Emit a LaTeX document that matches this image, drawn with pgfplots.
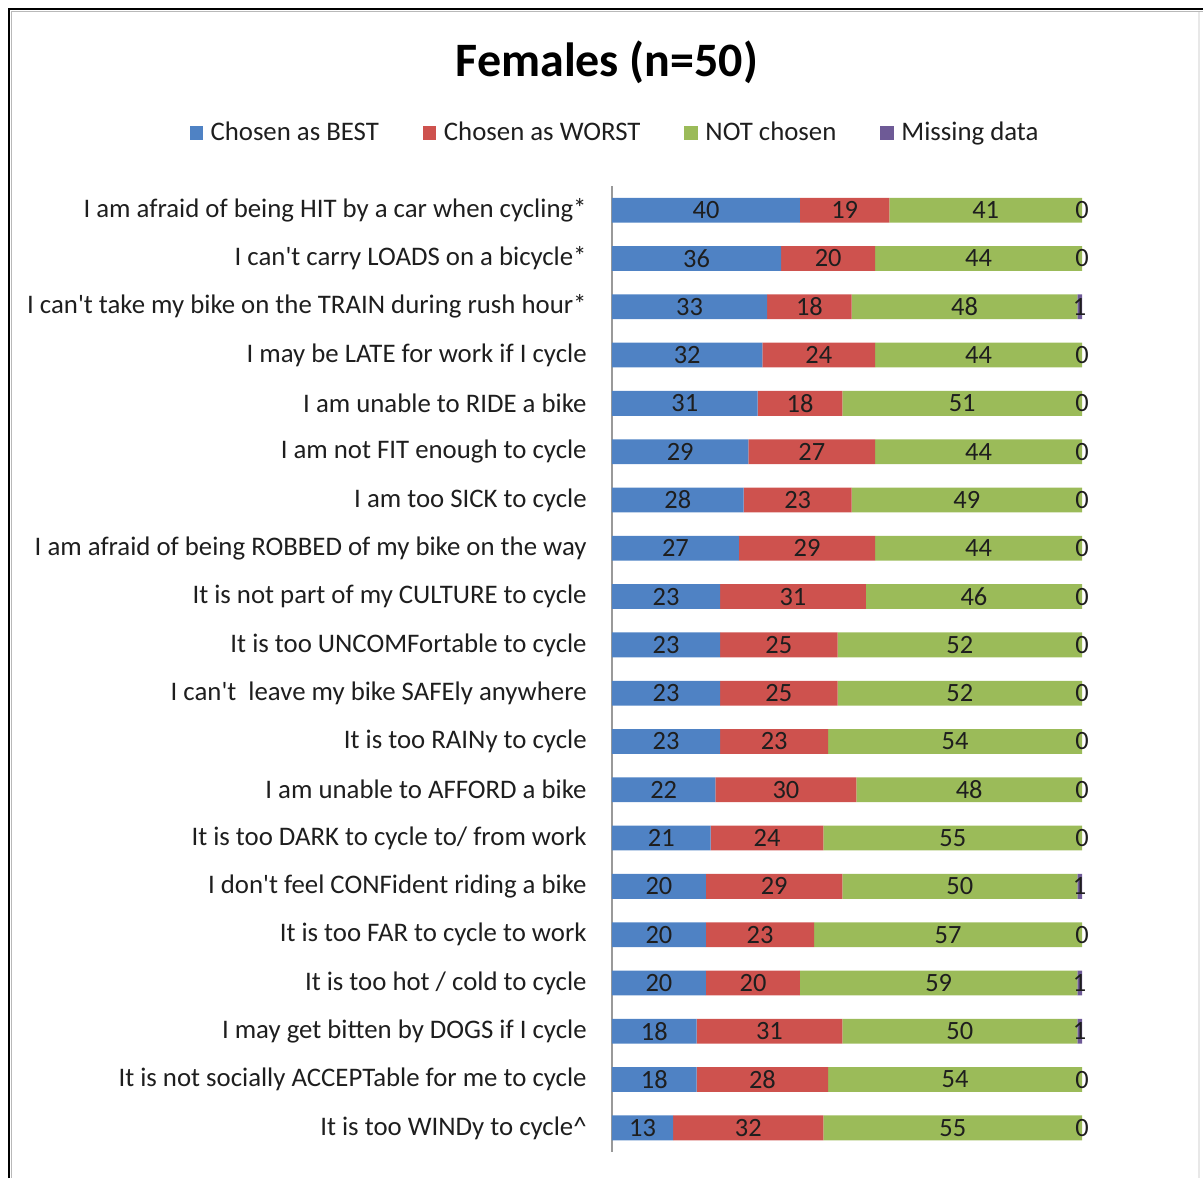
\documentclass[border=0pt]{standalone}
\usepackage{pgfplots}
\pgfplotsset{compat=1.18}
\usepackage{pgfplotstable}
\usepackage{fontspec}
\setmainfont{Carlito}

\definecolor{bestblue}{RGB}{79,130,196}
\definecolor{worstred}{RGB}{206,82,78}
\definecolor{notgreen}{RGB}{155,187,89}
\definecolor{missviolet}{RGB}{110,90,150}
\definecolor{labeltext}{RGB}{30,30,30}

% Share of responses per barrier statement (percent)
\pgfplotstableread{
idx best worst notchosen missing
0  40 19 41 0
1  36 20 44 0
2  33 18 48 1
3  32 24 44 0
4  31 18 51 0
5  29 27 44 0
6  28 23 49 0
7  27 29 44 0
8  23 31 46 0
9  23 25 52 0
10 23 25 52 0
11 23 23 54 0
12 22 30 48 0
13 21 24 55 0
14 20 29 50 1
15 20 23 57 0
16 20 20 59 1
17 18 31 50 1
18 18 28 54 0
19 13 32 55 0
}\barriers

\pgfplotsset{
  barframe/.style={
    at={(0pt,0pt)}, anchor=south west,
    scale only axis, width=235pt, height=483pt,
    xmin=0, xmax=100,
    ymin=-0.5, ymax=19.5, y dir=reverse,
    /pgf/number format/assume math mode=true,
    every node near coord/.append style={font=\fontsize{13.2}{15}\selectfont, text=labeltext, inner sep=0pt},
  },
  seglabel/.style={
    point meta=\thisrow{#1},
    nodes near coords={\makebox[0pt]{\pgfmathprintnumber{\pgfplotspointmeta}}},
  },
}

\begin{document}
\begin{tikzpicture}
\useasboundingbox (-306pt,-13pt) rectangle (295.5pt,576pt);

% frame
\draw[gray!55, line width=0.8pt] (-300.2pt,-13pt) -- (-300.2pt,570.2pt) -- (295.5pt,570.2pt);
\draw[black, line width=1.1pt] (-301.5pt,-13pt) -- (-301.5pt,571.5pt) -- (295.5pt,571.5pt);
\draw[gray!18, line width=0.8pt] (293.5pt,570pt) -- (293.5pt,-13pt);

\node[font=\fontsize{24}{28}\selectfont\bfseries, text=black] at (-2.5pt,545pt) {Females (n=50)};

\begin{axis}[
  barframe,
  xbar stacked, bar width=12.4pt,
  axis x line=none,
  axis y line=left,
  y axis line style={-, draw=black!40, line width=0.6pt},
  ytick={0,...,19},
  major tick length=0pt,
  yticklabel style={font=\fontsize{13.4}{15}\selectfont, text=labeltext, anchor=east, inner sep=0pt, xshift=-12.5pt},
  yticklabels={
    {I am afraid of being HIT by a car when cycling*},
    {I can\textquotesingle t carry LOADS on a bicycle*},
    {I can\textquotesingle t take my bike on the TRAIN during rush hour*},
    {I may be LATE for work if I cycle},
    {I am unable to RIDE a bike},
    {I am not FIT enough to cycle},
    {I am too SICK to cycle},
    {I am afraid of being ROBBED of my bike on the way},
    {It is not part of my CULTURE to cycle},
    {It is too UNCOMFortable to cycle},
    {I can\textquotesingle t\ \ leave my bike SAFEly anywhere\ },
    {It is too RAINy to cycle},
    {I am unable to AFFORD a bike},
    {It is too DARK to cycle to/ from work\ },
    {I don\textquotesingle t feel CONFident riding a bike\ },
    {It is too FAR to cycle to work},
    {It is too hot / cold to cycle},
    {I may get bitten by DOGS if I cycle},
    {It is not socially ACCEPTable for me to cycle\ },
    {It is too WINDy to cycle\textasciicircum},
  },
  legend columns=4,
  legend style={
    at={(0,1)}, anchor=center, xshift=2pt, yshift=26.5pt,
    draw=none, fill=none,
    font=\fontsize{13.4}{15}\selectfont,
    text=labeltext,
    /tikz/every even column/.append style={column sep=20pt},
  },
  legend image code/.code={\fill[#1] (0pt,-3.3pt) rectangle (6.6pt,3.3pt); \path (8.5pt,0pt);},
]
\addplot+[draw=none, fill=bestblue, seglabel=best] table[x=best, y=idx] {\barriers};
\addplot+[draw=none, fill=worstred, seglabel=worst] table[x=worst, y=idx] {\barriers};
\addplot+[draw=none, fill=notgreen, seglabel=notchosen] table[x=notchosen, y=idx] {\barriers};
\addplot+[draw=none, fill=missviolet] table[x=missing, y=idx] {\barriers};
\legend{Chosen as BEST, Chosen as WORST, NOT chosen, Missing data}
\end{axis}

% labels of the missing-data segments, centred on that segment at the bar end
\begin{axis}[barframe, hide axis]
\addplot[draw=none, mark=none, seglabel=missing,
  every node near coord/.append style={anchor=center}]
  table[x expr={\thisrow{best}+\thisrow{worst}+\thisrow{notchosen}+0.5*\thisrow{missing}}, y=idx] {\barriers};
\end{axis}
\end{tikzpicture}
\end{document}
